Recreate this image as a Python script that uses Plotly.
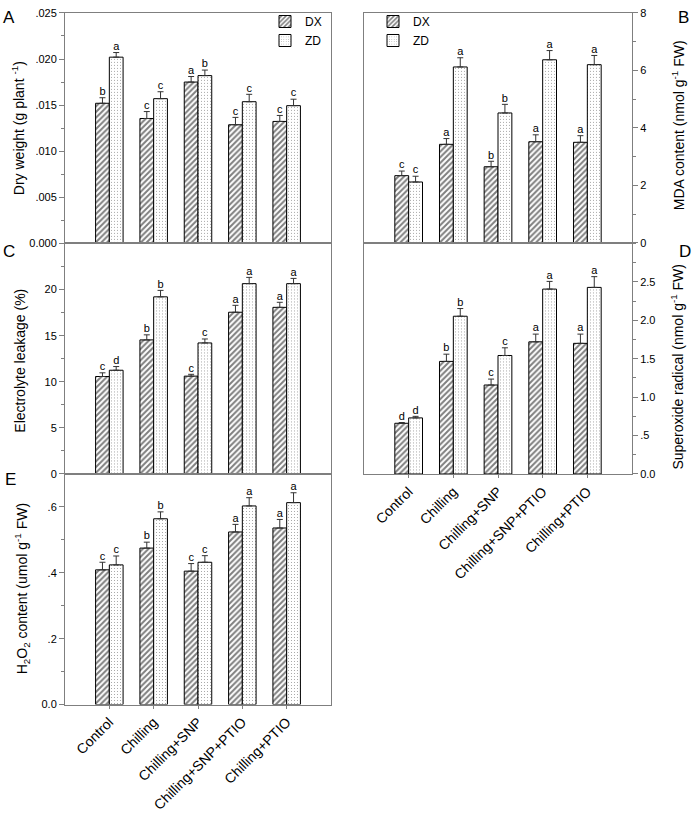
import plotly.graph_objects as go

W, H = 694, 813

categories = ["Control", "Chilling", "Chilling+SNP", "Chilling+SNP+PTIO", "Chilling+PTIO"]
series_names = ["DX", "ZD"]

# A: Dry weight
dw_dx = [0.0152, 0.01355, 0.0175, 0.01287, 0.01323]
dw_dx_err = [0.0006, 0.00075, 0.0006, 0.0008, 0.00065]
dw_zd = [0.0202, 0.0157, 0.0182, 0.01537, 0.01494]
dw_zd_err = [0.0005, 0.00075, 0.0006, 0.0008, 0.0007]
dw_dx_let = ["b", "c", "a", "c", "c"]
dw_zd_let = ["a", "c", "b", "c", "c"]

# B: MDA content
mda_dx = [2.34, 3.43, 2.65, 3.52, 3.50]
mda_dx_err = [0.16, 0.20, 0.19, 0.24, 0.23]
mda_zd = [2.12, 6.12, 4.52, 6.37, 6.20]
mda_zd_err = [0.20, 0.32, 0.30, 0.32, 0.32]
mda_dx_let = ["c", "a", "b", "a", "a"]
mda_zd_let = ["c", "a", "b", "a", "a"]

# C: Electrolyte leakage
el_dx = [10.57, 14.54, 10.61, 17.54, 18.07]
el_dx_err = [0.4, 0.55, 0.2, 0.75, 0.55]
el_zd = [11.25, 19.21, 14.21, 20.64, 20.64]
el_zd_err = [0.4, 0.7, 0.43, 0.68, 0.57]
el_dx_let = ["c", "b", "c", "a", "a"]
el_zd_let = ["d", "b", "c", "a", "a"]

# D: Superoxide radical
sr_dx = [0.66, 1.465, 1.158, 1.72, 1.70]
sr_dx_err = [0.01, 0.094, 0.077, 0.10, 0.12]
sr_zd = [0.73, 2.053, 1.542, 2.406, 2.428]
sr_zd_err = [0.02, 0.10, 0.10, 0.10, 0.14]
sr_dx_let = ["d", "b", "c", "a", "a"]
sr_zd_let = ["d", "b", "c", "a", "a"]

# E: H2O2 content
h2_dx = [0.409, 0.475, 0.405, 0.524, 0.536]
h2_dx_err = [0.023, 0.018, 0.023, 0.023, 0.026]
h2_zd = [0.424, 0.564, 0.432, 0.603, 0.613]
h2_zd_err = [0.027, 0.021, 0.02, 0.025, 0.03]
h2_dx_let = ["c", "b", "c", "a", "a"]
h2_zd_let = ["c", "b", "c", "a", "a"]

# tick labels
a_tickvals = [0, 0.005, 0.010, 0.015, 0.020, 0.025]
a_ticktext = ["0.000", ".005", ".010", ".015", ".020", ".025"]
b_tickvals = [0, 2, 4, 6, 8]
b_ticktext = ["0", "2", "4", "6", "8"]
c_tickvals = [0, 5, 10, 15, 20]
c_ticktext = ["0", "5", "10", "15", "20"]
d_tickvals = [0, 0.5, 1.0, 1.5, 2.0, 2.5]
d_ticktext = ["0.0", ".5", "1.0", "1.5", "2.0", "2.5"]
e_tickvals = [0, 0.2, 0.4, 0.6]
e_ticktext = ["0.0", ".2", ".4", ".6"]

FONT = "Liberation Sans, Arial, sans-serif"
GRAY = "#7f7f7f"
BW = 0.31  # bar width in category units


def px_x(v):
    return v / W


def px_y(v):
    return 1 - v / H


panels = [
    dict(key="A", ax="", dx=dw_dx, dxe=dw_dx_err, zd=dw_zd, zde=dw_zd_err, dl=dw_dx_let, zl=dw_zd_let,
         xd=(65, 331), yd=(7, 241), rng=[0, 0.025], tv=a_tickvals, tt=a_ticktext, minor=0.0025,
         side="left", legend="legend", xlabels=False,
         title="Dry weight (g plant <sup>-1</sup>)", tx=18, ty=124),
    dict(key="B", ax="2", dx=mda_dx, dxe=mda_dx_err, zd=mda_zd, zde=mda_zd_err, dl=mda_dx_let, zl=mda_zd_let,
         xd=(364, 632), yd=(7, 240.5), rng=[0, 8], tv=b_tickvals, tt=b_ticktext, minor=1,
         side="right", legend="legend2", xlabels=False,
         title="MDA content (nmol g<sup>-1</sup> FW)", tx=678, ty=121),
    dict(key="C", ax="3", dx=el_dx, dxe=el_dx_err, zd=el_zd, zde=el_zd_err, dl=el_dx_let, zl=el_zd_let,
         xd=(65, 331), yd=(241, 475), rng=[0, 25], tv=c_tickvals, tt=c_ticktext, minor=2.5,
         side="left", legend=None, xlabels=False,
         title="Electrolyte leakage (%)", tx=20, ty=360),
    dict(key="D", ax="4", dx=sr_dx, dxe=sr_dx_err, zd=sr_zd, zde=sr_zd_err, dl=sr_dx_let, zl=sr_zd_let,
         xd=(364, 632), yd=(241, 475), rng=[0, 3.0], tv=d_tickvals, tt=d_ticktext, minor=0.25,
         side="right", legend=None, xlabels=True,
         title="Superoxide radical (nmol g<sup>-1</sup> FW)", tx=677, ty=366),
    dict(key="E", ax="5", dx=h2_dx, dxe=h2_dx_err, zd=h2_zd, zde=h2_zd_err, dl=h2_dx_let, zl=h2_zd_let,
         xd=(65, 331), yd=(475, 709), rng=[0, 0.7], tv=e_tickvals, tt=e_ticktext, minor=0.1,
         side="left", legend=None, xlabels=True,
         title="H<sub>2</sub>O<sub>2</sub> content (umol g<sup>-1</sup> FW)", tx=22, ty=592),
]

fig = go.Figure()
idx = list(range(len(categories)))

styles = {
    "DX": dict(shape="/", size=4, solidity=0.5, fgcolor="#000000", bgcolor="white"),
    "ZD": dict(shape=".", size=3, solidity=0.12, fgcolor="#333333", bgcolor="white"),
}

annotations = []
for p in panels:
    xa = "x" + p["ax"]
    ya = "y" + p["ax"]
    for name, vals, errs, lets, off in [("DX", p["dx"], p["dxe"], p["dl"], -BW),
                                        ("ZD", p["zd"], p["zde"], p["zl"], 0.0)]:
        kw = {}
        if p["legend"]:
            kw["legend"] = p["legend"]
        fig.add_trace(go.Bar(
            x=idx, y=vals, name=name, xaxis=xa, yaxis=ya,
            offset=off, width=BW,
            marker=dict(color="white", line=dict(color="black", width=1),
                        pattern=styles[name]),
            error_y=dict(type="data", array=errs, arrayminus=[0] * len(errs), symmetric=False,
                         color="#333333", thickness=1, width=3),
            showlegend=bool(p["legend"]),
            **kw,
        ))
        fig.add_trace(go.Scatter(
            x=[i + off + BW / 2 for i in idx],
            y=[v + e for v, e in zip(vals, errs)],
            text=lets, mode="text", textposition="top center",
            textfont=dict(size=11, color="black", family=FONT),
            xaxis=xa, yaxis=ya, showlegend=False, cliponaxis=False, hoverinfo="skip",
        ))

    xd = [px_x(p["xd"][0]), px_x(p["xd"][1])]
    yd = [px_y(p["yd"][1]), px_y(p["yd"][0])]
    xaxis = dict(domain=xd, anchor=ya, range=[-1, 5], showline=True, linecolor=GRAY, linewidth=1,
                 mirror=True, showgrid=False, zeroline=False, fixedrange=True)
    if p["xlabels"]:
        xaxis.update(tickmode="array", tickvals=idx, ticktext=categories,
                     ticks="outside", ticklen=3, tickcolor=GRAY, showticklabels=True,
                     tickangle=-45, tickfont=dict(size=14, color="black", family=FONT))
    else:
        xaxis.update(showticklabels=False, ticks="")
    yaxis = dict(domain=yd, anchor=xa, range=p["rng"], showline=True, linecolor=GRAY, linewidth=1,
                 mirror=True, showgrid=False, zeroline=False, side=p["side"],
                 tickmode="array", tickvals=p["tv"], ticktext=p["tt"], ticks="outside", ticklen=5,
                 tickcolor=GRAY, tickfont=dict(size=11, color="black", family=FONT),
                 minor=dict(tickmode="linear", tick0=0, dtick=p["minor"], ticks="outside",
                            ticklen=3, tickcolor=GRAY),
                 fixedrange=True)
    fig.layout["xaxis" + p["ax"]] = xaxis
    fig.layout["yaxis" + p["ax"]] = yaxis

    annotations.append(dict(text=p["title"], x=px_x(p["tx"]), y=px_y(p["ty"]),
                            xref="paper", yref="paper", textangle=-90, showarrow=False,
                            xanchor="center", yanchor="middle",
                            font=dict(size=14, color="black", family=FONT)))

panel_letters = [("A", 9, 12), ("B", 683, 12), ("C", 9, 249), ("D", 685, 249), ("E", 10, 481)]
for lab, lx, ly in panel_letters:
    annotations.append(dict(text=lab, x=px_x(lx), y=px_y(ly), xref="paper", yref="paper",
                            showarrow=False, xanchor="center", yanchor="middle",
                            font=dict(size=17, color="black", family=FONT)))

fig.update_layout(
    width=W, height=H, margin=dict(l=0, r=0, t=0, b=0),
    paper_bgcolor="white", plot_bgcolor="white",
    barmode="overlay",
    font=dict(family=FONT, color="black"),
    annotations=annotations,
    legend=dict(x=px_x(265), y=px_y(1), xanchor="left", yanchor="top",
                bgcolor="rgba(0,0,0,0)", font=dict(size=12, family=FONT),
                tracegroupgap=0, itemwidth=30),
    legend2=dict(x=px_x(373), y=px_y(1), xanchor="left", yanchor="top",
                 bgcolor="rgba(0,0,0,0)", font=dict(size=12, family=FONT),
                 tracegroupgap=0, itemwidth=30),
)

fig.write_html("out.html", config={"displayModeBar": False, "staticPlot": False},
               post_script="document.body.style.margin='0px';document.body.style.overflow='hidden';")
